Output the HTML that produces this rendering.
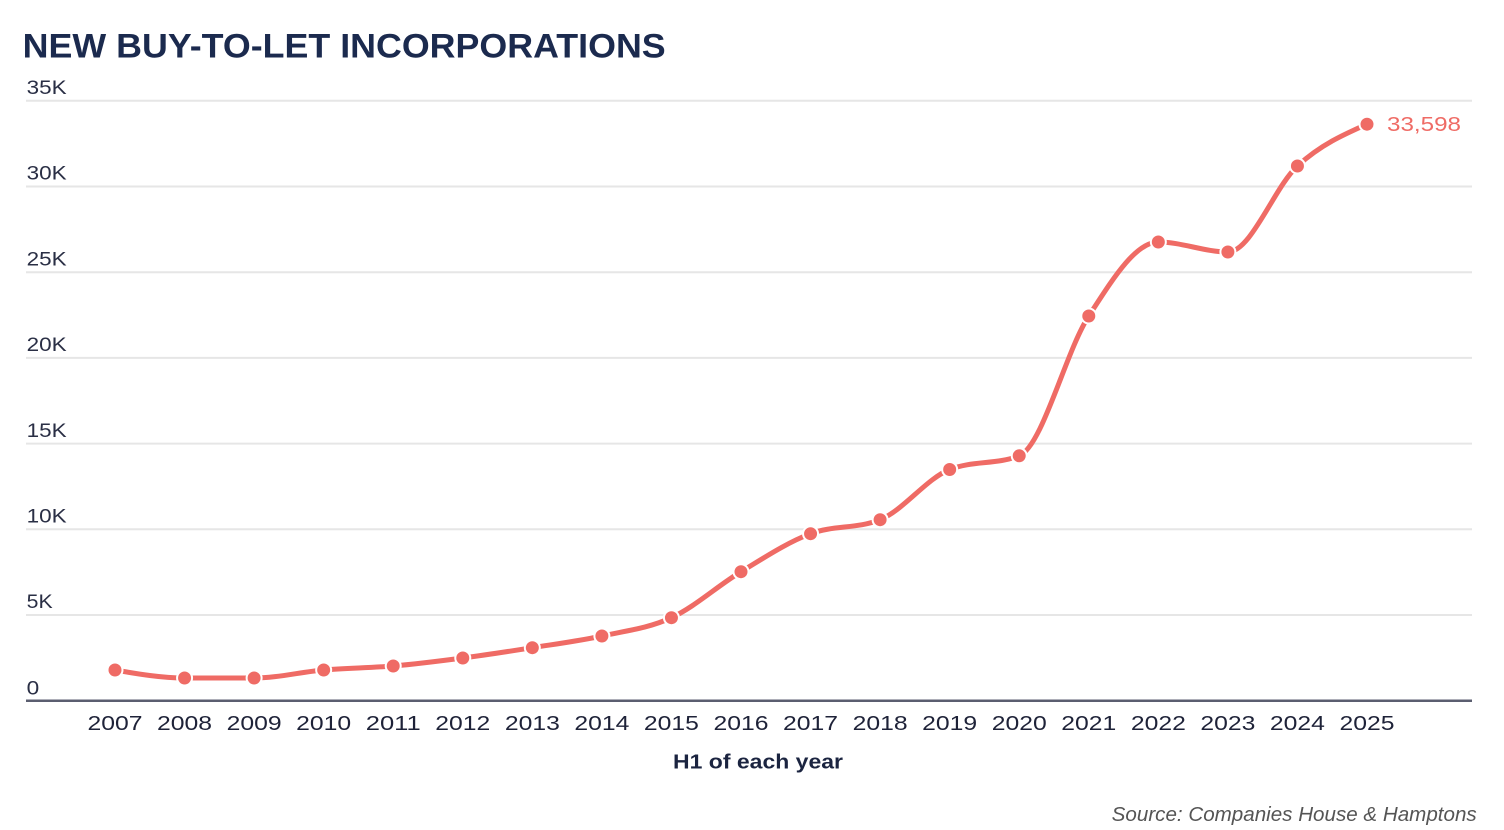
<!DOCTYPE html>
<html>
<head>
<meta charset="utf-8">
<style>
  html,body{margin:0;padding:0;background:#fff;}
  body{width:1504px;height:830px;overflow:hidden;}
  svg{display:block;}
  text{font-family:"Liberation Sans",sans-serif;}
</style>
</head>
<body>
<svg id="c" width="1504" height="830" viewBox="0 0 1504 830" xmlns="http://www.w3.org/2000/svg">
  <rect width="1504" height="830" fill="#ffffff"/>
  <!-- Title -->
  <text x="22.7" y="57.3" font-size="34" font-weight="bold" fill="#1b2a4e" textLength="643" lengthAdjust="spacingAndGlyphs">NEW BUY-TO-LET INCORPORATIONS</text>

  <!-- Gridlines -->
  <g stroke="#e6e6e6" stroke-width="2">
    <line x1="26" y1="100.8" x2="1472" y2="100.8"/>
    <line x1="26" y1="186.5" x2="1472" y2="186.5"/>
    <line x1="26" y1="272.2" x2="1472" y2="272.2"/>
    <line x1="26" y1="357.9" x2="1472" y2="357.9"/>
    <line x1="26" y1="443.6" x2="1472" y2="443.6"/>
    <line x1="26" y1="529.3" x2="1472" y2="529.3"/>
    <line x1="26" y1="615.0" x2="1472" y2="615.0"/>
  </g>
  <line x1="26" y1="700.7" x2="1472" y2="700.7" stroke="#5b5e70" stroke-width="2.5"/>

  <!-- Y labels -->
  <g font-size="19" fill="#2a2f45">
    <text x="26.7" y="94" textLength="40" lengthAdjust="spacingAndGlyphs">35K</text>
    <text x="26.7" y="179.7" textLength="40" lengthAdjust="spacingAndGlyphs">30K</text>
    <text x="26.7" y="265.4" textLength="40" lengthAdjust="spacingAndGlyphs">25K</text>
    <text x="26.7" y="351.1" textLength="40" lengthAdjust="spacingAndGlyphs">20K</text>
    <text x="26.7" y="436.8" textLength="40" lengthAdjust="spacingAndGlyphs">15K</text>
    <text x="26.7" y="522.5" textLength="40" lengthAdjust="spacingAndGlyphs">10K</text>
    <text x="26.7" y="608.2" textLength="26" lengthAdjust="spacingAndGlyphs">5K</text>
    <text x="26.7" y="694.3" textLength="12.6" lengthAdjust="spacingAndGlyphs">0</text>
  </g>

  <!-- X labels -->
  <g id="xl" font-size="20" fill="#1e2238"></g>

  <!-- Axis title -->
  <text x="673" y="768.3" font-size="20.5" font-weight="bold" fill="#1b2440" textLength="170" lengthAdjust="spacingAndGlyphs">H1 of each year</text>

  <!-- Series -->
  <path id="ln" d="" fill="none" stroke="#ef6b65" stroke-width="5" stroke-linecap="round" stroke-linejoin="round"/>
  <g id="mk" fill="#ef6b65" stroke="#ffffff" stroke-width="2"></g>

  <!-- End label -->
  <text x="1387" y="131" font-size="20.5" fill="#ef6b65" textLength="74" lengthAdjust="spacingAndGlyphs">33,598</text>

  <!-- Source -->
  <text x="1111.7" y="821" font-size="20" font-style="italic" fill="#555555" textLength="365" lengthAdjust="spacingAndGlyphs">Source: Companies House &amp; Hamptons</text>
</svg>
<script>
(function(){
  var ns="http://www.w3.org/2000/svg";
  var ys=[670,678,678,670,666,658,647.7,636,617.7,571.7,533.7,519.7,469.5,455.8,316,242,252,166,124.2];
  var x0=115, step=(1367-115)/18;
  var pts=ys.map(function(y,i){return [x0+i*step,y];});
  var xl=document.getElementById('xl');
  for(var i=0;i<pts.length;i++){
    var t=document.createElementNS(ns,'text');
    t.setAttribute('x',(pts[i][0]-27.5).toFixed(2));
    t.setAttribute('y','730');
    t.setAttribute('textLength','55');
    t.setAttribute('lengthAdjust','spacingAndGlyphs');
    t.textContent=String(2007+i);
    xl.appendChild(t);
  }
  function sign(v){return v<0?-1:1;}
  var n=pts.length, m=new Array(n);
  for(var i=1;i<n-1;i++){
    var h0=pts[i][0]-pts[i-1][0], h1=pts[i+1][0]-pts[i][0];
    var s0=(pts[i][1]-pts[i-1][1])/h0, s1=(pts[i+1][1]-pts[i][1])/h1;
    var p=(s0*h1+s1*h0)/(h0+h1);
    m[i]=(sign(s0)+sign(s1))*Math.min(Math.abs(s0),Math.abs(s1),0.5*Math.abs(p))||0;
  }
  var hA=pts[1][0]-pts[0][0];
  m[0]=(3*(pts[1][1]-pts[0][1])/hA-m[1])/2;
  var hB=pts[n-1][0]-pts[n-2][0];
  m[n-1]=(3*(pts[n-1][1]-pts[n-2][1])/hB-m[n-2])/2;
  var d="M"+pts[0][0].toFixed(2)+","+pts[0][1].toFixed(2);
  for(var i=0;i<n-1;i++){
    var dx=(pts[i+1][0]-pts[i][0])/3;
    d+="C"+(pts[i][0]+dx).toFixed(2)+","+(pts[i][1]+dx*m[i]).toFixed(2)+" "+
       (pts[i+1][0]-dx).toFixed(2)+","+(pts[i+1][1]-dx*m[i+1]).toFixed(2)+" "+
       pts[i+1][0].toFixed(2)+","+pts[i+1][1].toFixed(2);
  }
  document.getElementById('ln').setAttribute('d',d);
  var mk=document.getElementById('mk');
  for(var i=0;i<n;i++){
    var c=document.createElementNS(ns,'circle');
    c.setAttribute('cx',pts[i][0].toFixed(2));
    c.setAttribute('cy',pts[i][1].toFixed(2));
    c.setAttribute('r','7.5');
    mk.appendChild(c);
  }
})();
</script>
</body>
</html>
